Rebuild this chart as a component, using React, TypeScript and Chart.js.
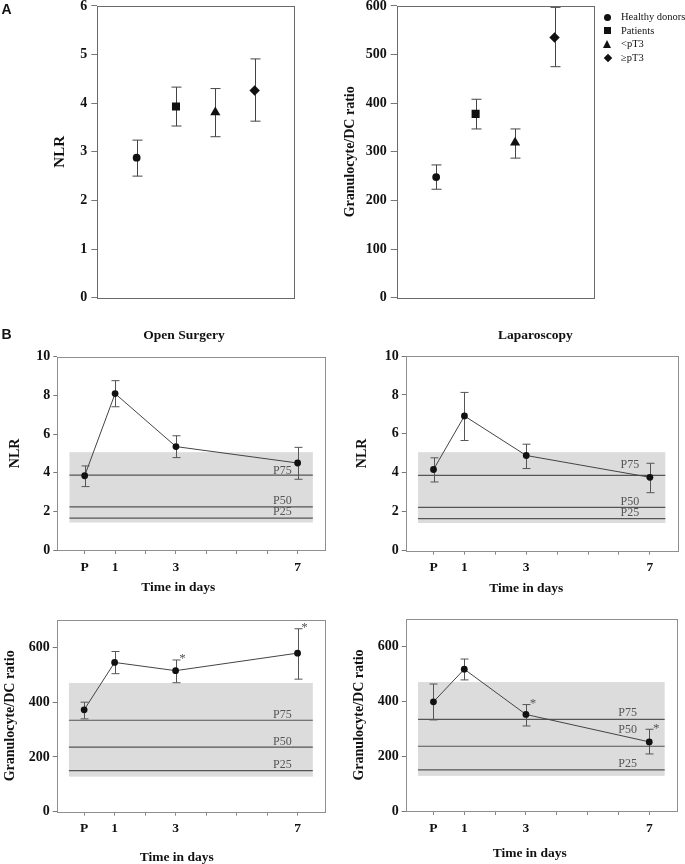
import React, { useEffect, useRef } from "react";
import { Chart, registerables } from "chart.js";
Chart.register(...registerables);

const SERIF = "'Liberation Serif', 'Times New Roman', serif";
const SANS = "'Liberation Sans', Arial, sans-serif";

// ---------- Panel A data ----------
const groupNames = ["Healthy donors", "Patients", "<pT3", "\u2265pT3"];
const groupPos = [1, 2, 3, 4];
const groupStyles = ["circle", "rect", "triangle", "rectRot"];
const groupRadius = [3.9, 5.7, 5.9, 5.2];
const nlrMean = [2.88, 3.93, 3.81, 4.26];
const nlrHigh = [3.24, 4.33, 4.3, 4.91];
const nlrLow = [2.5, 3.53, 3.31, 3.63];
const gdcMean = [248, 378, 319, 535];
const gdcHigh = [273, 408, 347, 597];
const gdcLow = [223, 347, 287, 475];
const nlrTicksA = [0, 1, 2, 3, 4, 5, 6];
const gdcTicksA = [0, 100, 200, 300, 400, 500, 600];

// ---------- Panel B data ----------
const days = [0, 1, 3, 7];
const dayTicks = [0, 1, 2, 3, 4, 5, 6, 7];
const dayTickLabels = ["P", "1", "", "3", "", "", "", "7"];
const openNlrMean = [3.84, 8.09, 5.35, 4.5];
const openNlrHigh = [4.35, 8.76, 5.91, 5.31];
const openNlrLow = [3.28, 7.41, 4.78, 3.66];
const lapNlrMean = [4.17, 6.92, 4.89, 3.77];
const lapNlrHigh = [4.77, 8.13, 5.47, 4.49];
const lapNlrLow = [3.53, 5.66, 4.22, 2.98];
const openGdcMean = [372, 545, 515, 579];
const openGdcHigh = [400, 585, 554, 668];
const openGdcLow = [339, 504, 471, 484];
const lapGdcMean = [398, 517, 352, 252];
const lapGdcHigh = [463, 554, 388, 298];
const lapGdcLow = [332, 478, 310, 208];
const noSig = [false, false, false, false];
const openGdcSig = [false, false, true, true];
const lapGdcSig = [false, false, true, true];
const nlrTicksB = [0, 2, 4, 6, 8, 10];
const gdcTicksB = [0, 200, 400, 600];
const refNames = ["P75", "P50", "P25"];
const nlrRef = [3.87, 2.23, 1.65];
const gdcRef = [334, 236, 150];
const nlrBand = [1.42, 5.06];
const gdcBand = [128, 470];
const bandDays = [-0.5, 7.5];
const openNlrRefLabelY = [4.1, 2.55, 1.95];
const lapNlrRefLabelY = [4.42, 2.5, 1.93];
const openGdcRefLabelY = [354, 256, 171];
const lapGdcRefLabelY = [357, 295, 171];

type Geo = { x: number; y: number; w: number; h: number; l: number; t: number; r: number; b: number; yTitleX: number };

function errorBars(chart: any, xs: number[], hi: number[], lo: number[], cap: number, color: string) {
  const { ctx, scales } = chart;
  ctx.save();
  ctx.strokeStyle = color;
  ctx.lineWidth = 1;
  xs.forEach((xv, i) => {
    const px = Math.round(scales.x.getPixelForValue(xv)) + 0.5;
    const ph = scales.y.getPixelForValue(hi[i]);
    const pl = scales.y.getPixelForValue(lo[i]);
    ctx.beginPath();
    ctx.moveTo(px, ph);
    ctx.lineTo(px, pl);
    ctx.moveTo(px - cap, ph);
    ctx.lineTo(px + cap, ph);
    ctx.moveTo(px - cap, pl);
    ctx.lineTo(px + cap, pl);
    ctx.stroke();
  });
  ctx.restore();
}

function framePlugin(color: string) {
  return {
    id: "frame",
    afterDraw(chart: any) {
      const { ctx, chartArea: a } = chart;
      ctx.save();
      ctx.strokeStyle = color;
      ctx.lineWidth = 1;
      ctx.strokeRect(Math.round(a.left) + 0.5, Math.round(a.top) + 0.5, Math.round(a.right - a.left), Math.round(a.bottom - a.top));
      ctx.restore();
    },
  };
}

function yAxis(geo: Geo, ticks: number[], max: number, title: string, titleSize: number, tickLen: number, pad: number) {
  const lh = titleSize * 1.2;
  const titleLeft = geo.yTitleX - lh / 2;
  return {
    type: "linear",
    min: 0,
    max,
    afterBuildTicks: (s: any) => {
      s.ticks = ticks.map((v) => ({ value: v }));
    },
    afterFit: (s: any) => {
      s.width = geo.l - titleLeft;
      s.paddingTop = 0;
      s.paddingBottom = 0;
    },
    ticks: { font: { family: SERIF, size: 14, weight: "bold" }, color: "#111", padding: pad },
    grid: { display: true, drawOnChartArea: false, drawTicks: true, tickLength: tickLen, tickColor: "#777" },
    border: { display: false },
    title: { display: true, text: title, font: { family: SERIF, size: titleSize, weight: "bold" }, color: "#111", padding: 0 },
  };
}

function aConfig(geo: Geo, mean: number[], hi: number[], lo: number[], ticks: number[], max: number, title: string, titleSize: number) {
  const titleLeft = geo.yTitleX - (titleSize * 1.2) / 2;
  return {
    type: "scatter",
    data: {
      datasets: [
        {
          data: groupPos.map((p, i) => ({ x: p, y: mean[i] })),
          pointStyle: groupStyles,
          pointRadius: groupRadius,
          pointBackgroundColor: "#111",
          pointBorderColor: "#111",
          pointBorderWidth: 0,
        },
      ],
    },
    options: {
      responsive: false,
      animation: false,
      devicePixelRatio: 1,
      events: [],
      layout: { padding: { left: titleLeft - geo.x, top: geo.t - geo.y, right: geo.x + geo.w - geo.r, bottom: geo.y + geo.h - geo.b } },
      plugins: { legend: { display: false }, tooltip: { enabled: false }, title: { display: false } },
      scales: {
        x: { type: "linear", min: 0, max: 5, display: false },
        y: yAxis(geo, ticks, max, title, titleSize, 6, 4),
      },
    },
    plugins: [
      {
        id: "err",
        beforeDatasetsDraw(chart: any) {
          errorBars(chart, groupPos, hi, lo, 5, "#444");
        },
      },
      framePlugin("#6a6a6a"),
    ],
  };
}

type BSpec = {
  geo: Geo;
  mean: number[];
  hi: number[];
  lo: number[];
  sig: boolean[];
  ticks: number[];
  max: number;
  band: number[];
  refs: number[];
  refLabelX: number;
  refLabelY: number[];
  title: string;
};

function bConfig(s: BSpec) {
  const geo = s.geo;
  const titleSize = 14;
  const titleLeft = geo.yTitleX - (titleSize * 1.2) / 2;
  const xH = 30;
  return {
    type: "scatter",
    data: {
      datasets: [
        {
          data: days.map((d, i) => ({ x: d, y: s.mean[i] })),
          showLine: true,
          borderColor: "#444",
          borderWidth: 1,
          pointStyle: "circle",
          pointRadius: 3.4,
          pointBackgroundColor: "#111",
          pointBorderWidth: 0,
        },
      ],
    },
    options: {
      responsive: false,
      animation: false,
      devicePixelRatio: 1,
      events: [],
      layout: { padding: { left: titleLeft - geo.x, top: geo.t - geo.y, right: geo.x + geo.w - geo.r, bottom: geo.y + geo.h - geo.b - xH } },
      plugins: { legend: { display: false }, tooltip: { enabled: false }, title: { display: false } },
      scales: {
        x: {
          type: "linear",
          min: -0.9,
          max: 7.9,
          afterBuildTicks: (sc: any) => {
            sc.ticks = dayTicks.map((v) => ({ value: v }));
          },
          afterFit: (sc: any) => {
            sc.height = xH;
            sc.paddingLeft = 0;
            sc.paddingRight = 0;
          },
          ticks: {
            callback: (v: number) => dayTickLabels[dayTicks.indexOf(v)],
            font: { family: SERIF, size: 13.5, weight: "bold" },
            color: "#111",
            padding: 5,
            maxRotation: 0,
            autoSkip: false,
          },
          grid: { display: true, drawOnChartArea: false, drawTicks: true, tickLength: 4, tickColor: "#888" },
          border: { display: false },
        },
        y: yAxis(geo, s.ticks, s.max, s.title, titleSize, 4, 3),
      },
    },
    plugins: [
      {
        id: "band",
        beforeDatasetsDraw(chart: any) {
          const { ctx, scales } = chart;
          const x0 = scales.x.getPixelForValue(bandDays[0]);
          const x1 = scales.x.getPixelForValue(bandDays[1]);
          const yt = scales.y.getPixelForValue(s.band[1]);
          const yb = scales.y.getPixelForValue(s.band[0]);
          ctx.save();
          ctx.fillStyle = "#dcdcdc";
          ctx.fillRect(x0, yt, x1 - x0, yb - yt);
          ctx.strokeStyle = "#555";
          ctx.lineWidth = 1.2;
          s.refs.forEach((v) => {
            const py = scales.y.getPixelForValue(v);
            ctx.beginPath();
            ctx.moveTo(x0, py);
            ctx.lineTo(x1, py);
            ctx.stroke();
          });
          ctx.fillStyle = "#555";
          ctx.font = `12px ${SERIF}`;
          ctx.textAlign = "center";
          ctx.textBaseline = "middle";
          refNames.forEach((n, i) => {
            ctx.fillText(n, scales.x.getPixelForValue(s.refLabelX), scales.y.getPixelForValue(s.refLabelY[i]));
          });
          ctx.restore();
          errorBars(chart, days, s.hi, s.lo, 4, "#555");
        },
        afterDatasetsDraw(chart: any) {
          const { ctx, scales } = chart;
          ctx.save();
          ctx.fillStyle = "#555";
          ctx.font = `13px ${SERIF}`;
          ctx.textAlign = "center";
          ctx.textBaseline = "middle";
          days.forEach((d, i) => {
            if (!s.sig[i]) return;
            ctx.fillText("*", scales.x.getPixelForValue(d) + 7, scales.y.getPixelForValue(s.hi[i]) - 1);
          });
          ctx.restore();
        },
      },
      framePlugin("#8f8f8f"),
    ],
  };
}

function ChartBox({ geo, make }: { geo: Geo; make: () => any }) {
  const ref = useRef<HTMLCanvasElement>(null);
  useEffect(() => {
    const chart = new Chart(ref.current as HTMLCanvasElement, make());
    return () => chart.destroy();
  }, []);
  return (
    <div style={{ position: "absolute", left: geo.x, top: geo.y, width: geo.w, height: geo.h }}>
      <canvas ref={ref} width={geo.w} height={geo.h} style={{ display: "block", width: geo.w, height: geo.h }} />
    </div>
  );
}

function Label({ text, cx, cy, size, bold, family, align }: { text: string; cx: number; cy: number; size: number; bold?: boolean; family?: string; align?: string }) {
  const w = 240;
  const left = align === "left" ? cx : cx - w / 2;
  return (
    <div
      style={{
        position: "absolute",
        left,
        top: cy - 10,
        width: w,
        height: 20,
        lineHeight: "20px",
        textAlign: (align === "left" ? "left" : "center") as any,
        fontFamily: family || SERIF,
        fontSize: size,
        fontWeight: bold ? 700 : 400,
        color: "#111",
        whiteSpace: "nowrap",
      }}
    >
      {text}
    </div>
  );
}

const geoAL: Geo = { x: 0, y: 0, w: 320, h: 310, l: 97.3, t: 5.3, r: 294, b: 297.7, yTitleX: 60 };
const geoAR: Geo = { x: 320, y: 0, w: 365, h: 310, l: 396.7, t: 5.3, r: 594, b: 297.7, yTitleX: 350.7 };
const geoBTL: Geo = { x: 0, y: 318, w: 340, h: 282, l: 57.3, t: 356.7, r: 325, b: 550, yTitleX: 15.7 };
const geoBTR: Geo = { x: 340, y: 318, w: 345, h: 282, l: 405.7, t: 356, r: 677.7, b: 550.7, yTitleX: 362.5 };
const geoBBL: Geo = { x: 0, y: 600, w: 340, h: 264, l: 56.7, t: 620, r: 325, b: 811.7, yTitleX: 10 };
const geoBBR: Geo = { x: 340, y: 600, w: 345, h: 264, l: 405.7, t: 619, r: 677, b: 811, yTitleX: 359 };

const legendY = [17, 30.5, 44, 57.5];

function LegendMarker({ style, cx, cy }: { style: string; cx: number; cy: number }) {
  const base: any = { position: "absolute" };
  if (style === "circle") return <div style={{ ...base, left: cx - 3.5, top: cy - 3.5, width: 7, height: 7, borderRadius: "50%", background: "#111" }} />;
  if (style === "rect") return <div style={{ ...base, left: cx - 3.5, top: cy - 3.5, width: 7, height: 7, background: "#111" }} />;
  if (style === "triangle")
    return (
      <div
        style={{
          ...base,
          left: cx - 4.5,
          top: cy - 4,
          width: 0,
          height: 0,
          borderLeft: "4.5px solid transparent",
          borderRight: "4.5px solid transparent",
          borderBottom: "8px solid #111",
        }}
      />
    );
  return <div style={{ ...base, left: cx - 3, top: cy - 3, width: 6, height: 6, background: "#111", transform: "rotate(45deg)" }} />;
}

export default function App() {
  return (
    <div style={{ position: "absolute", left: 0, top: 0, width: 685, height: 864, background: "#fff", overflow: "hidden" }}>
      <ChartBox geo={geoAL} make={() => aConfig(geoAL, nlrMean, nlrHigh, nlrLow, nlrTicksA, 6, "NLR", 15)} />
      <ChartBox geo={geoAR} make={() => aConfig(geoAR, gdcMean, gdcHigh, gdcLow, gdcTicksA, 600, "Granulocyte/DC ratio", 14)} />
      <ChartBox
        geo={geoBTL}
        make={() =>
          bConfig({ geo: geoBTL, mean: openNlrMean, hi: openNlrHigh, lo: openNlrLow, sig: noSig, ticks: nlrTicksB, max: 10, band: nlrBand, refs: nlrRef, refLabelX: 6.5, refLabelY: openNlrRefLabelY, title: "NLR" })
        }
      />
      <ChartBox
        geo={geoBTR}
        make={() =>
          bConfig({ geo: geoBTR, mean: lapNlrMean, hi: lapNlrHigh, lo: lapNlrLow, sig: noSig, ticks: nlrTicksB, max: 10, band: nlrBand, refs: nlrRef, refLabelX: 6.35, refLabelY: lapNlrRefLabelY, title: "NLR" })
        }
      />
      <ChartBox
        geo={geoBBL}
        make={() =>
          bConfig({ geo: geoBBL, mean: openGdcMean, hi: openGdcHigh, lo: openGdcLow, sig: openGdcSig, ticks: gdcTicksB, max: 700, band: gdcBand, refs: gdcRef, refLabelX: 6.5, refLabelY: openGdcRefLabelY, title: "Granulocyte/DC ratio" })
        }
      />
      <ChartBox
        geo={geoBBR}
        make={() =>
          bConfig({ geo: geoBBR, mean: lapGdcMean, hi: lapGdcHigh, lo: lapGdcLow, sig: lapGdcSig, ticks: gdcTicksB, max: 700, band: gdcBand, refs: gdcRef, refLabelX: 6.3, refLabelY: lapGdcRefLabelY, title: "Granulocyte/DC ratio" })
        }
      />

      {groupNames.map((n, i) => (
        <React.Fragment key={n}>
          <LegendMarker style={groupStyles[i]} cx={607.7} cy={legendY[i]} />
          <Label text={n} cx={621} cy={legendY[i]} size={10.5} align="left" />
        </React.Fragment>
      ))}

      <Label text="A" cx={1.5} cy={8.5} size={14} bold family={SANS} align="left" />
      <Label text="B" cx={1.5} cy={334} size={14} bold family={SANS} align="left" />
      <Label text="Open Surgery" cx={184} cy={335} size={13.5} bold />
      <Label text="Laparoscopy" cx={535.3} cy={335} size={13.5} bold />
      <Label text="Time in days" cx={178.3} cy={586.7} size={13.5} bold />
      <Label text="Time in days" cx={526.3} cy={588.3} size={13.5} bold />
      <Label text="Time in days" cx={176.7} cy={856.7} size={13.5} bold />
      <Label text="Time in days" cx={529.7} cy={853.3} size={13.5} bold />
    </div>
  );
}
